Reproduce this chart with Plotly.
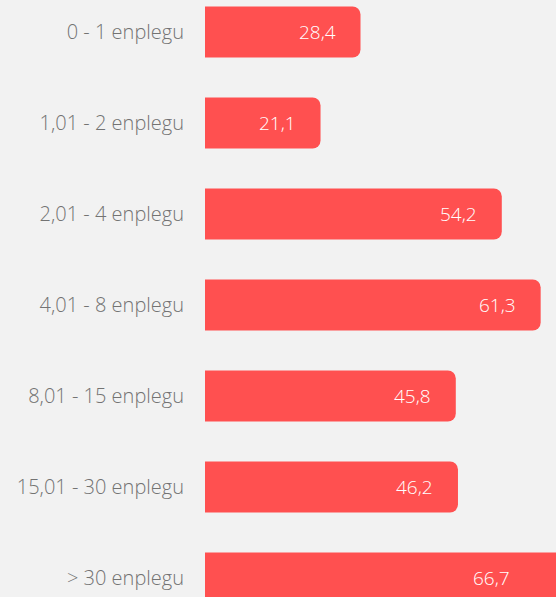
import plotly.graph_objects as go

# Enplegu-tarteen araberako balioak
categories = ["0 - 1 enplegu", "1,01 - 2 enplegu", "2,01 - 4 enplegu", "4,01 - 8 enplegu",
              "8,01 - 15 enplegu", "15,01 - 30 enplegu", "> 30 enplegu"]
values = [28.4, 21.1, 54.2, 61.3, 45.8, 46.2, 66.7]
value_labels = ["28,4", "21,1", "54,2", "61,3", "45,8", "46,2", "66,7"]

BAR_COLOR = "#FF5050"
BG = "#F2F2F2"
X_MAX = 64.1

fig = go.Figure()
fig.add_trace(go.Bar(
    x=values,
    y=categories,
    orientation="h",
    marker=dict(color=BAR_COLOR, cornerradius=8, line=dict(width=0)),
    hoverinfo="skip",
))

# Value labels kept inside the visible part of each bar
for cat, v, lab in zip(categories, values, value_labels):
    fig.add_annotation(
        x=min(v, X_MAX), y=cat, text=lab, showarrow=False,
        xanchor="right", xshift=-23 if v < X_MAX else -44,
        font=dict(family="Open Sans", size=19, color="white", weight=300),
    )

fig.update_layout(
    width=556, height=597,
    margin=dict(l=205, r=0, t=0, b=0),
    paper_bgcolor=BG, plot_bgcolor=BG,
    bargap=0.44,
    showlegend=False,
    font=dict(family="Open Sans", size=20, color="#737373", weight=300),
)
fig.update_xaxes(range=[0, X_MAX], visible=False, fixedrange=True)
fig.update_yaxes(
    type="category",
    categoryorder="array", categoryarray=categories,
    range=[6.2088, -0.3516],
    showgrid=False, zeroline=False, showline=False,
    ticks="", ticklabelstandoff=20,
    tickfont=dict(family="Open Sans", size=20, color="#737373", weight=300),
)

fig.write_html("out.html")
